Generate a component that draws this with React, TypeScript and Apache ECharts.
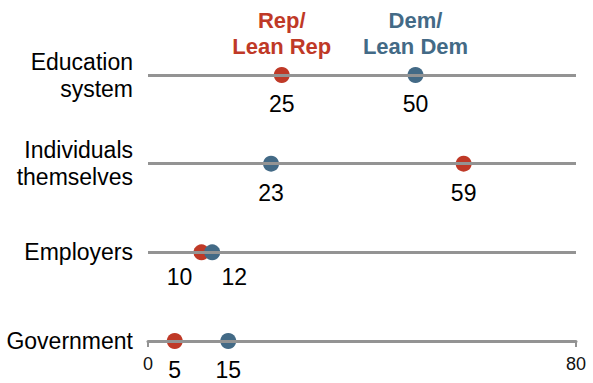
import React, { useEffect, useRef } from "react";
import * as echarts from "echarts";

const categories = ["Education\nsystem", "Individuals\nthemselves", "Employers", "Government"];
const repValues = [25, 59, 10, 5];
const demValues = [50, 23, 12, 15];
const seriesHeaders = ["Rep/\nLean Rep", "Dem/\nLean Dem"];
const axisTicks = [0, 80];

const RED = "#BF3927";
const BLUE = "#436A86";
const GRAY = "#939393";
const FONT = "Liberation Sans";

export default function App() {
  const ref = useRef<HTMLDivElement>(null);
  useEffect(() => {
    if (!ref.current) return;
    const chart = echarts.init(ref.current, null, { renderer: "svg" });

    const makeData = (vals: number[], other: number[]) =>
      vals.map((v, i) => {
        const close = Math.abs(v - other[i]) < 5;
        const dir = close ? (v < other[i] ? -1 : 1) : 0;
        return {
          value: [v, categories[i]],
          label: close ? { offset: [dir * 22, -4] } : {},
        };
      });

    const header = (name: string, val: number, color: string) => ({
      symbol: "rect",
      symbolSize: 1,
      itemStyle: { color: "rgba(0,0,0,0)" },
      data: [
        {
          coord: [val, categories[0]],
          label: {
            show: true,
            position: "top",
            distance: 15,
            formatter: name,
            color,
            fontFamily: FONT,
            fontWeight: "bold",
            fontSize: 22,
            lineHeight: 26,
            align: "center",
          },
        },
      ],
    });

    const valueLabel = {
      show: true,
      position: "bottom",
      distance: 10,
      color: "#000",
      fontFamily: FONT,
      fontSize: 23,
      lineHeight: 22,
      formatter: (p: any) => String(p.value[0]),
    };

    chart.setOption({
      animation: false,
      grid: { left: 148, right: 17, top: 75, bottom: 42 },
      xAxis: {
        type: "value",
        min: axisTicks[0],
        max: axisTicks[1],
        interval: axisTicks[1] - axisTicks[0],
        axisLine: { show: true, lineStyle: { color: GRAY, width: 3 } },
        axisTick: { show: true, length: 6, lineStyle: { color: GRAY, width: 2 } },
        axisLabel: { fontFamily: FONT, fontSize: 18, color: "#111", margin: 14 },
        splitLine: { show: false },
      },
      yAxis: {
        type: "category",
        data: categories,
        inverse: true,
        boundaryGap: false,
        axisLine: { show: false },
        axisTick: { show: false },
        splitLine: { show: false },
        axisLabel: {
          fontFamily: FONT,
          fontSize: 23,
          lineHeight: 27,
          color: "#000",
          align: "right",
          margin: 15,
        },
      },
      series: [
        {
          type: "scatter",
          data: [],
          z: 1,
          markLine: {
            silent: true,
            symbol: ["none", "none"],
            label: { show: false },
            lineStyle: { color: GRAY, width: 3, type: "solid" },
            data: categories.map((c) => [
              { coord: [axisTicks[0], c] },
              { coord: [axisTicks[1], c] },
            ]),
          },
        },
        {
          name: "Rep/Lean Rep",
          type: "scatter",
          z: 3,
          symbolSize: 16,
          itemStyle: { color: RED, opacity: 1 },
          label: valueLabel,
          data: makeData(repValues, demValues),
          markPoint: header(seriesHeaders[0], repValues[0], RED),
        },
        {
          name: "Dem/Lean Dem",
          type: "scatter",
          z: 4,
          symbolSize: 16,
          itemStyle: { color: BLUE, opacity: 1 },
          label: valueLabel,
          data: makeData(demValues, repValues),
          markPoint: header(seriesHeaders[1], demValues[0], BLUE),
        },
      ],
    });
    return () => chart.dispose();
  }, []);

  return (
    <div
      ref={ref}
      style={{ position: "absolute", left: 0, top: 0, width: 593, height: 383, background: "#fff" }}
    />
  );
}
